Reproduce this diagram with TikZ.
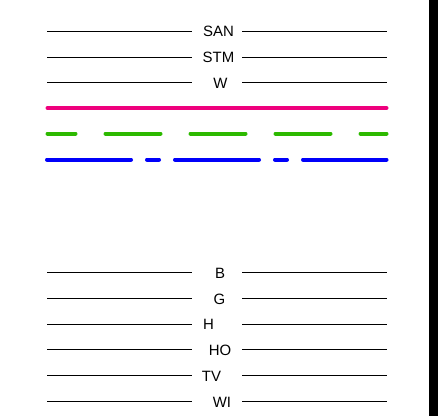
\documentclass[tikz,border=0pt]{standalone}
\usepackage{fontspec}
\setmainfont{Liberation Sans}
\definecolor{lnmagenta}{RGB}{238,0,125}
\definecolor{lngreen}{RGB}{45,185,0}
\definecolor{lnblue}{RGB}{0,0,250}
\tikzset{
  thinline/.style={line width=0.9bp},
  boldline/.style={line width=4bp,line cap=round},
  lbl/.style={inner sep=0pt,font=\fontsize{15}{18}\selectfont},
}
\begin{document}
\begin{tikzpicture}[x=1bp,y=-1bp]
    \useasboundingbox (0,0) rectangle (438,416);
    % rand rechts
    \fill[black] (429,0) rectangle (438,416);
    % obere gruppe
    \draw[thinline] (47,31.3) -- (192,31.3);
    \draw[thinline] (242,31.3) -- (387,31.3);
    \node[lbl] (san) at (218.5,31.5) {SAN};
    \draw[thinline] (47,57) -- (192,57);
    \draw[thinline] (242,57) -- (387,57);
    \node[lbl] (stm) at (218.5,57) {STM};
    \draw[thinline] (47,82.3) -- (192,82.3);
    \draw[thinline] (242,82.3) -- (387,82.3);
    \node[lbl] (w) at (220.5,83) {W};
    % farbige linien
    \coordinate (magA) at (47.5,108);
    \coordinate (magB) at (386.5,108);
    \coordinate (grnA) at (47.5,133.5);
    \coordinate (grnB) at (386.5,133.5);
    \coordinate (bluA) at (47,159.5);
    \coordinate (bluB) at (386.5,159.5);
    \draw[boldline,lnmagenta] (magA) -- (magB);
    \draw[boldline,lngreen,dash pattern=on 55bp off 30bp,dash phase=27bp] (grnA) -- (grnB);
    \draw[boldline,lnblue,dash pattern=on 84bp off 16bp on 12bp off 16bp] (bluA) -- (bluB);
    % untere gruppe
    \draw[thinline] (47,272.7) -- (192,272.7);
    \draw[thinline] (242,272.7) -- (387,272.7);
    \node[lbl] (b) at (220,273) {B};
    \draw[thinline] (47,298.3) -- (192,298.3);
    \draw[thinline] (242,298.3) -- (387,298.3);
    \node[lbl] (g) at (219.5,299) {G};
    \draw[thinline] (47,324) -- (192,324);
    \draw[thinline] (242,324) -- (387,324);
    \node[lbl] (h) at (208.5,324.5) {H};
    \draw[thinline] (47,349.7) -- (192,349.7);
    \draw[thinline] (242,349.7) -- (387,349.7);
    \node[lbl] (ho) at (220,350) {HO};
    \draw[thinline] (47,375.3) -- (192,375.3);
    \draw[thinline] (242,375.3) -- (387,375.3);
    \node[lbl] (tv) at (211.5,376) {TV};
    \draw[thinline] (47,401) -- (192,401);
    \draw[thinline] (242,401) -- (387,401);
    \node[lbl] (wi) at (222,402) {WI};
\end{tikzpicture}
\end{document}
